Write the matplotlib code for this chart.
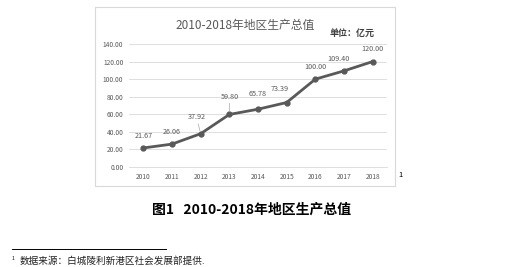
import matplotlib
matplotlib.use('Agg')
import matplotlib.pyplot as plt
from matplotlib.patches import Rectangle
from matplotlib.lines import Line2D

plt.rcParams['font.family'] = ['Noto Sans CJK SC', 'DejaVu Sans']

years = ['2010', '2011', '2012', '2013', '2014', '2015', '2016', '2017', '2018']
gdp = [21.67, 26.06, 37.92, 59.80, 65.78, 73.39, 100.00, 109.40, 120.00]
yticks = [0, 20, 40, 60, 80, 100, 120, 140]
# 数据标签的偏移(点)
offsets = [(0, 6), (0, 6), (-3, 9), (0, 10), (0, 8), (-5, 7), (0, 6), (-4, 6), (0, 6)]
leader = [False, False, True, True, False, False, False, False, False]

W, H = 521, 267
fig = plt.figure(figsize=(W / 100, H / 100), dpi=100)

# 图表外框
fig.patches.append(Rectangle((95 / W, 1 - 186 / H), 300 / W, 179 / H,
                             transform=fig.transFigure, fill=False,
                             edgecolor='#d9d9d9', linewidth=0.8))

ax = fig.add_axes([129 / W, 1 - 167 / H, 258 / W, 123 / H])
x = list(range(len(years)))
ax.plot(x, gdp, color='#595959', linewidth=2.0, marker='o', markersize=3.5, zorder=3)

for i, v in enumerate(gdp):
    ap = dict(arrowstyle='-', color='#a6a6a6', linewidth=0.5, shrinkA=0, shrinkB=2) if leader[i] else None
    ax.annotate(f'{v:.2f}', (i, v), xytext=offsets[i], textcoords='offset points',
                ha='center', va='bottom', fontsize=5.2, color='#595959', arrowprops=ap)

ax.set_xlim(-0.5, len(years) - 0.5)
ax.set_ylim(0, 140)
ax.set_xticks(x)
ax.set_xticklabels(years)
ax.set_yticks(yticks)
ax.set_yticklabels([f'{t:.2f}' for t in yticks])
ax.tick_params(axis='both', length=0, labelsize=4.8, labelcolor='#595959', pad=4)
ax.grid(axis='y', color='#d9d9d9', linewidth=0.6)
ax.set_axisbelow(True)
for s in ax.spines.values():
    s.set_visible(False)
ax.spines['bottom'].set_visible(True)
ax.spines['bottom'].set_color('#d9d9d9')
ax.spines['bottom'].set_linewidth(0.6)

fig.text(245 / W, 1 - 25 / H, '2010-2018年地区生产总值', ha='center', va='center',
         fontsize=8.5, color='#595959')
fig.text(352 / W, 1 - 33 / H, '单位：亿元', ha='center', va='center',
         fontsize=6.5, color='#404040', fontweight='bold')
fig.text(398 / W, 1 - 175 / H, '1', ha='left', va='center', fontsize=5.5, color='black')

# 图题
fig.text(252 / W, 1 - 210 / H, '图1   2010-2018年地区生产总值', ha='center', va='center',
         fontsize=10, fontweight='bold', color='black')

# 脚注
fig.add_artist(Line2D([12 / W, 166 / W], [1 - 249 / H, 1 - 249 / H],
                      transform=fig.transFigure, color='black', linewidth=0.7))
fig.text(12 / W, 1 - 259 / H, '1', ha='left', va='center', fontsize=3.5, color='black')
fig.text(20 / W, 1 - 261 / H, '数据来源：白城陵利新港区社会发展部提供.', ha='left', va='center',
         fontsize=6.9, color='#222222')

fig.savefig('out.png', dpi=100)
